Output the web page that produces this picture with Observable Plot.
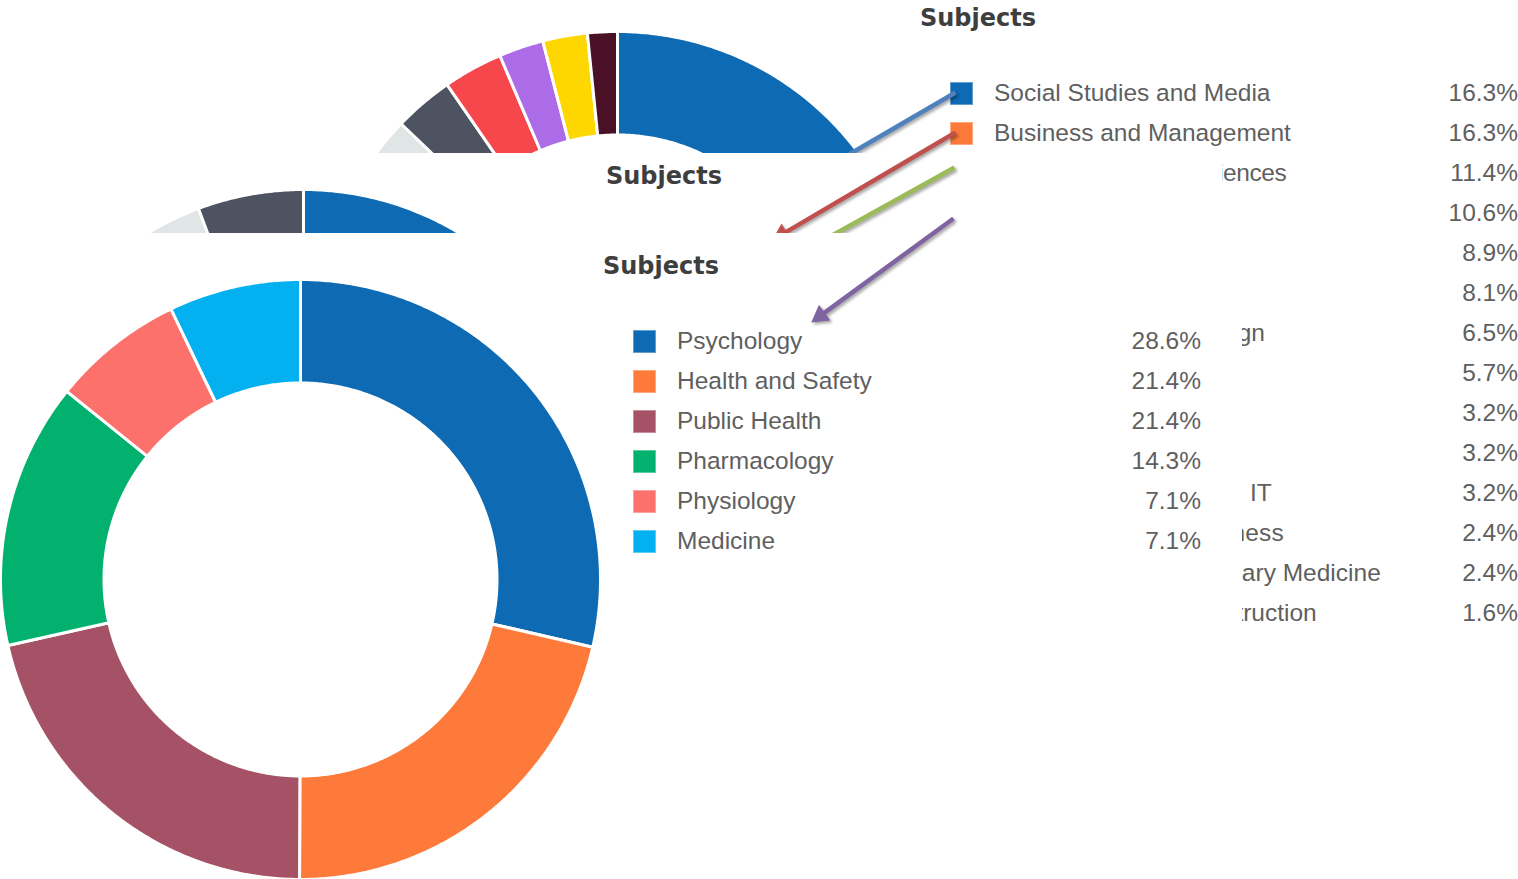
<!DOCTYPE html>
<html>
<head>
<meta charset="utf-8">
<script src="https://cdn.jsdelivr.net/npm/d3@7"></script>
<script src="https://cdn.jsdelivr.net/npm/@observablehq/plot@0.6"></script>
<style>
html,body{margin:0;padding:0;background:#fff;}
#page{position:relative;width:1518px;height:879px;overflow:hidden;background:#fff;font-family:"Liberation Sans",Arial,sans-serif;}
.panel{position:absolute;background:#fff;overflow:hidden;}
.abs{position:absolute;}
.title{font-family:"DejaVu Sans",Verdana,sans-serif;font-weight:bold;font-size:24px;color:#3e3e3e;text-align:center;width:240px;line-height:24px;white-space:nowrap;}
.lbl{font-size:24.5px;color:#5f5f5f;line-height:40px;height:40px;white-space:nowrap;}
.val{font-size:24.5px;color:#5f5f5f;line-height:40px;height:40px;text-align:right;width:140px;white-space:nowrap;}
.sw{width:23px;height:23px;box-sizing:border-box;border:1px solid rgba(255,255,255,0.35);}
.arrows{position:absolute;left:0;top:0;filter:drop-shadow(2px 2px 1.5px rgba(0,0,0,0.35));pointer-events:none;}
</style>
</head>
<body>
<div id="page"></div>
<script>
// ---------- data ----------
const backTitle = "Subjects";
const backLabels = ["Social Studies and Media","Business and Management","Biological and Life Sciences","Health Sciences","Education","Law","Creative Arts and Design","Humanities","Engineering","Mathematics","Computer Science and IT","Sport, Leisure and Fitness","Agriculture and Veterinary Medicine","Architecture and Construction"];
const backValues = [16.3,16.3,11.4,10.6,8.9,8.1,6.5,5.7,3.2,3.2,3.2,2.4,2.4,1.6];
const backColors = ["#0e6ab3","#fe7a3a","#a65266","#03b16f","#fd716d","#03b1f0","#8fbf45","#2a9d9c","#e0e6e5","#4e5361","#f5474c","#ac6ce8","#fed700","#4a1025"];

const middleTitle = "Subjects";
const middleValues = [22.9,17.1,14.3,11.4,8.6,8.6,5.7,2.9,2.9,5.7];
const middleColors = ["#0e6ab3","#fe7a3a","#a65266","#03b16f","#fd716d","#03b1f0","#8fbf45","#2a9d9c","#e0e6e5","#4e5361"];

const frontTitle = "Subjects";
const frontLabels = ["Psychology","Health and Safety","Public Health","Pharmacology","Physiology","Medicine"];
const frontValues = [28.6,21.4,21.4,14.3,7.1,7.1];
const frontColors = ["#0e6ab3","#fe7a3a","#a65266","#03b16f","#fd716d","#03b1f0"];

// annotation arrows (page pixel coordinates) and the layer they sit on
const arrowFrom = [[955,92],[955,132],[954,167],[953,218]];
const arrowTo   = [[790,188],[773,239],[790,258],[812,321]];
const arrowColors = ["#4f81bd","#c0504d","#9bbb59","#8064a2"];
const arrowLayers = [0,1,1,2];

// ---------- helpers ----------
const fmt = v => d3.format(".1f")(v) + "%";
const SIZE = 600, INNER = 0.655;

function donut(values, colors) {
  const total = d3.sum(values);
  const pts = [];
  let cum = 0;
  values.forEach((v, i) => {
    const a0 = 2 * Math.PI * cum / total, a1 = 2 * Math.PI * (cum + v) / total;
    const n = Math.max(2, Math.ceil((a1 - a0) / (Math.PI / 360)));
    for (let k = 0; k <= n; k++) { const a = a0 + (a1 - a0) * k / n; pts.push({key: i, x: Math.sin(a), y: Math.cos(a)}); }
    for (let k = n; k >= 0; k--) { const a = a0 + (a1 - a0) * k / n; pts.push({key: i, x: INNER * Math.sin(a), y: INNER * Math.cos(a)}); }
    cum += v;
  });
  return Plot.plot({
    width: SIZE, height: SIZE, margin: 0,
    style: {background: "none", maxWidth: "none"},
    x: {domain: [-1, 1], axis: null},
    y: {domain: [-1, 1], axis: null},
    color: {type: "ordinal", domain: d3.range(values.length), range: colors},
    marks: [
      Plot.line(pts, {x: "x", y: "y", z: "key", fill: "key", stroke: "white", strokeWidth: 3, curve: "linear-closed"})
    ]
  });
}

function el(parent, cls, css, text) {
  const d = document.createElement("div");
  d.className = cls;
  Object.assign(d.style, css);
  if (text != null) d.textContent = text;
  parent.appendChild(d);
  return d;
}

// geometry of one chart panel, expressed for the front chart; others are offsets
function chart(parent, {dx, dy, originY, title, labels, values, colors, tracking}) {
  const cx = 300 + dx, cy = 579 + dy - originY;
  const holder = el(parent, "abs", {left: (cx - SIZE / 2) + "px", top: (cy - SIZE / 2) + "px"});
  holder.appendChild(donut(values, colors));
  el(parent, "abs title", {left: (661 + dx - 120) + "px", top: (266 + dy - originY - 12) + "px"}, title);
  if (labels) {
    labels.forEach((lab, i) => {
      const ry = 341 + dy - originY + 40 * i;
      el(parent, "abs sw", {left: (633 + dx) + "px", top: (ry - 11.5) + "px", background: colors[i]});
      const l = el(parent, "abs lbl", {left: (677 + dx) + "px", top: (ry - 20) + "px"}, lab);
      if (tracking && tracking[i] != null) l.style.letterSpacing = tracking[i] + "px";
      el(parent, "abs val", {left: (1201 + dx - 140) + "px", top: (ry - 20) + "px"}, fmt(values[i]));
    });
  }
}

function arrowLayer(parent, layer) {
  const list = [];
  arrowFrom.forEach((f, i) => {
    if (arrowLayers[i] !== layer) return;
    const t = arrowTo[i];
    const ddx = t[0] - f[0], ddy = t[1] - f[1], L = Math.hypot(ddx, ddy);
    const ux = ddx / L, uy = ddy / L;
    list.push({x1: f[0], y1: f[1], hx: t[0] - ux * 9.5, hy: t[1] - uy * 9.5,
               rot: Math.atan2(ddx, -ddy) * 180 / Math.PI, color: arrowColors[i]});
  });
  const svg = Plot.plot({
    width: 1518, height: 879, margin: 0,
    style: {background: "none", maxWidth: "none"},
    x: {type: "identity", axis: null},
    y: {type: "identity", axis: null},
    marks: [
      Plot.link(list, {x1: "x1", y1: "y1", x2: "hx", y2: "hy", stroke: "color", strokeWidth: 4.5, strokeLinecap: "butt"}),
      Plot.dot(list, {x: "hx", y: "hy", symbol: "triangle", r: 6.5, fill: "color", stroke: "color", strokeWidth: 1, rotate: "rot"})
    ]
  });
  const wrap = el(parent, "arrows", {});
  wrap.appendChild(svg);
}

// ---------- assemble ----------
const page = document.getElementById("page");

// back chart (no panel)
const back = el(page, "abs", {left: "0px", top: "0px", width: "1518px", height: "879px"});
chart(back, {dx: 317, dy: -248, originY: 0, title: backTitle, labels: backLabels, values: backValues, colors: backColors, tracking: {2: -0.46, 11: 0.15}});
arrowLayer(page, 0);

// middle panel
const middle = el(page, "panel", {left: "0px", top: "153px", width: "1222px", height: "726px"});
chart(middle, {dx: 3, dy: -90, originY: 153, title: middleTitle, labels: null, values: middleValues, colors: middleColors});
arrowLayer(page, 1);

// front panel
const front = el(page, "panel", {left: "0px", top: "233px", width: "1242px", height: "646px"});
chart(front, {dx: 0, dy: 0, originY: 233, title: frontTitle, labels: frontLabels, values: frontValues, colors: frontColors});
arrowLayer(page, 2);
</script>
</body>
</html>
